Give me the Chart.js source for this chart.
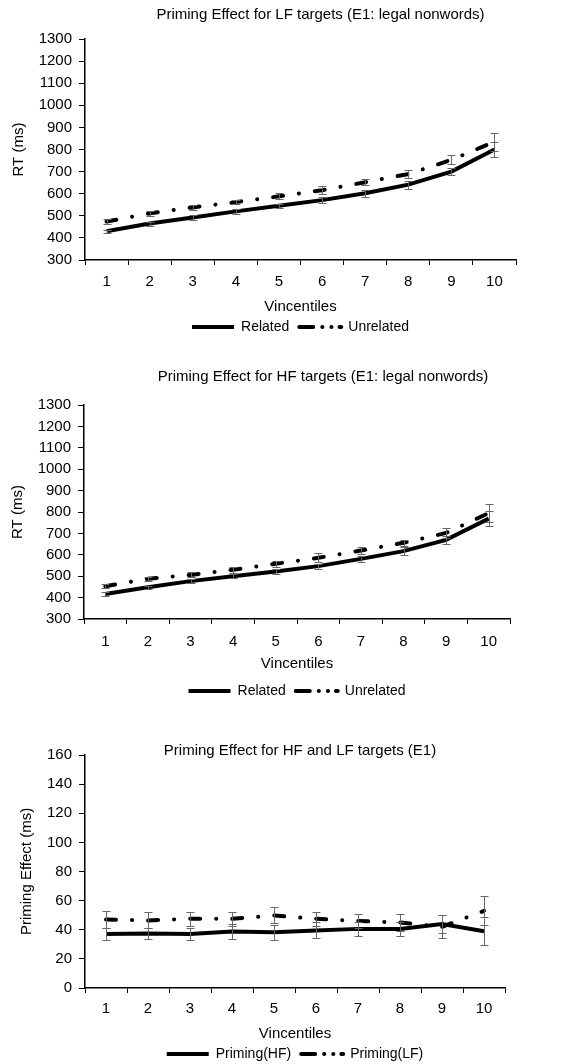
<!DOCTYPE html>
<html>
<head>
<meta charset="utf-8">
<script src="https://cdn.jsdelivr.net/npm/chart.js@4"></script>
<style>
	html, body { margin: 0; padding: 0; background: #fff; width: 585px; height: 1064px; overflow: hidden; }
	canvas { position: absolute; left: 0; }
</style>
</head>
<body>
<canvas id="chart-lf" width="585" height="344" style="top:0px"></canvas>
<canvas id="chart-hf" width="585" height="348" style="top:360px"></canvas>
<canvas id="chart-priming" width="585" height="351" style="top:720px"></canvas>
<script>
	'use strict';

	var vincentiles = ['1', '2', '3', '4', '5', '6', '7', '8', '9', '10'];

	// E1, LF targets (ms)
	var lfRelated = [430, 465, 492, 520, 545, 571, 602, 641, 700, 800];
	var lfRelatedErr = [8, 9, 10, 12, 10, 12, 15, 18, 15, 35];
	var lfUnrelated = [474, 511, 538, 562, 588, 616, 652, 689, 753, 835];
	var lfUnrelatedErr = [10, 10, 10, 10, 13, 18, 13, 17, 20, 40];

	// E1, HF targets (ms)
	var hfRelated = [417, 448, 477, 500, 522, 547, 581, 617, 670, 769];
	var hfRelatedErr = [8, 8, 8, 10, 12, 12, 15, 18, 20, 35];
	var hfUnrelated = [453, 488, 506, 530, 558, 586, 620, 656, 702, 795];
	var hfUnrelatedErr = [10, 10, 12, 13, 15, 21, 15, 15, 22, 42];

	// priming effect (ms)
	var primingHF = [37, 37.5, 37, 38.8, 38.3, 39.5, 40.6, 40.6, 44, 39];
	var primingHFErr = [4, 4, 4, 5, 5, 5.5, 5, 5, 6, 9.5];
	var primingLF = [47, 46.4, 47.5, 47.5, 49.8, 47.5, 46, 45, 42, 53];
	var primingLFErr = [6, 5.5, 5, 5, 5.5, 5, 5, 6, 8, 10];

	var rtTicks = { min: 300, max: 1300, step: 100 };
	var primingTicks = { min: 0, max: 160, step: 20 };

	var FONT = '"Liberation Sans", Arial, Helvetica, sans-serif';
	Chart.defaults.font.family = FONT;
	Chart.defaults.color = '#000';

	// vertical error bars with caps, drawn from dataset.errors
	var errorBarPlugin = {
		id: 'errorBars',
		afterDatasetsDraw: function (chart) {
			var ctx = chart.ctx;
			var yScale = chart.scales.y;
			chart.data.datasets.forEach(function (ds, i) {
				if (!ds.errors) {
					return;
				}
				var meta = chart.getDatasetMeta(i);
				ctx.save();
				ctx.strokeStyle = '#666';
				ctx.lineWidth = 1;
				meta.data.forEach(function (pt, j) {
					var top = Math.round(yScale.getPixelForValue(ds.data[j] + ds.errors[j])) + 0.5;
					var bottom = Math.round(yScale.getPixelForValue(ds.data[j] - ds.errors[j])) + 0.5;
					var x = Math.round(pt.x) + 0.5;
					ctx.beginPath();
					ctx.moveTo(x, top);
					ctx.lineTo(x, bottom);
					ctx.moveTo(x - 4, top);
					ctx.lineTo(x + 4, top);
					ctx.moveTo(x - 4, bottom);
					ctx.lineTo(x + 4, bottom);
					ctx.stroke();
				});
				ctx.restore();
			});
		}
	};

	// panel heading, placed relative to the plot area like the original figure
	var panelTitlePlugin = {
		id: 'panelTitle',
		afterDraw: function (chart, args, opts) {
			var area = chart.chartArea;
			var ctx = chart.ctx;
			ctx.save();
			ctx.font = '15px ' + FONT;
			ctx.fillStyle = '#000';
			ctx.textAlign = 'center';
			ctx.textBaseline = 'middle';
			ctx.fillText(opts.text, (area.left + area.right) / 2 + opts.shift, opts.y);
			ctx.restore();
		}
	};

	function lineDataset(label, values, errors, dashed) {
		return {
			label: label,
			data: values,
			errors: errors,
			borderColor: '#000',
			backgroundColor: '#000',
			borderWidth: 4,
			borderDash: dashed ? [10, 16, 0.1, 16] : [],
			legendDash: dashed ? [14, 9, 0.1, 9, 0.1, 8] : [],
			borderCapStyle: dashed ? 'round' : 'butt',
			pointRadius: 0,
			pointHoverRadius: 0,
			tension: 0,
			fill: false
		};
	}

	function legendLabels(chart) {
		return chart.data.datasets.map(function (ds, i) {
			return {
				text: ds.label,
				fillStyle: ds.borderColor,
				strokeStyle: ds.borderColor,
				lineWidth: ds.borderWidth,
				lineDash: ds.legendDash,
				lineCap: ds.borderCapStyle,
				pointStyle: 'line',
				fontColor: '#000',
				hidden: false,
				datasetIndex: i
			};
		});
	}

	function makeChart(id, p) {
		return new Chart(document.getElementById(id), {
			type: 'line',
			data: {
				labels: vincentiles,
				datasets: p.datasets
			},
			plugins: [errorBarPlugin, panelTitlePlugin],
			options: {
				responsive: false,
				animation: false,
				devicePixelRatio: 1,
				layout: {
					padding: { top: p.padTop, right: p.padRight, left: 0, bottom: 0 }
				},
				plugins: {
					tooltip: { enabled: false },
					title: { display: false },
					panelTitle: { text: p.title, shift: p.titleShift, y: p.titleY },
					legend: {
						position: 'bottom',
						fullSize: false,
						labels: {
							usePointStyle: true,
							pointStyleWidth: 42,
							boxHeight: 14,
							padding: 10,
							font: { size: 14 },
							color: '#000',
							generateLabels: legendLabels
						}
					}
				},
				scales: {
					x: {
						type: 'category',
						offset: true,
						grid: {
							offset: true,
							drawOnChartArea: false,
							drawTicks: true,
							tickLength: 5,
							color: '#000',
							lineWidth: 1
						},
						border: { color: '#000', width: 1.5 },
						ticks: {
							padding: p.xTickPad,
							maxRotation: 0,
							font: { size: 15 }
						},
						title: {
							display: true,
							text: 'Vincentiles',
							font: { size: 15 },
							padding: { top: p.xTitleTop, bottom: p.xTitleBottom }
						}
					},
					y: {
						min: p.ticks.min,
						max: p.ticks.max,
						afterFit: function (scale) {
							scale.width = p.yWidth;
						},
						grid: {
							drawOnChartArea: false,
							drawTicks: true,
							tickLength: 6,
							color: '#000',
							lineWidth: 1
						},
						border: { color: '#000', width: 1.5 },
						ticks: {
							stepSize: p.ticks.step,
							autoSkip: false,
							padding: 7,
							font: { size: 15 },
							callback: function (value) {
								return String(value);
							}
						},
						title: {
							display: true,
							text: p.yTitle,
							font: { size: 15 },
							padding: { top: p.yTitlePad, bottom: 0 }
						}
					}
				}
			}
		});
	}

	makeChart('chart-lf', {
		title: 'Priming Effect for LF targets (E1: legal nonwords)',
		titleShift: 20,
		titleY: 15,
		yTitle: 'RT (ms)',
		yTitlePad: 10,
		yWidth: 85,
		ticks: rtTicks,
		padTop: 39,
		padRight: 69,
		xTickPad: 8,
		xTitleTop: -1,
		xTitleBottom: -6,
		datasets: [
			lineDataset('Related', lfRelated, lfRelatedErr, false),
			lineDataset('Unrelated', lfUnrelated, lfUnrelatedErr, true)
		]
	});

	makeChart('chart-hf', {
		title: 'Priming Effect for HF targets (E1: legal nonwords)',
		titleShift: 26,
		titleY: 17,
		yTitle: 'RT (ms)',
		yTitlePad: 9,
		yWidth: 84,
		ticks: rtTicks,
		padTop: 45,
		padRight: 75,
		xTickPad: 9,
		xTitleTop: -5,
		xTitleBottom: 1,
		datasets: [
			lineDataset('Related', hfRelated, hfRelatedErr, false),
			lineDataset('Unrelated', hfUnrelated, hfUnrelatedErr, true)
		]
	});

	makeChart('chart-priming', {
		title: 'Priming Effect for HF and LF targets (E1)',
		titleShift: 5,
		titleY: 31,
		yTitle: 'Priming Effect (ms)',
		yTitlePad: 18,
		yWidth: 85,
		ticks: primingTicks,
		padTop: 35,
		padRight: 80,
		xTickPad: 7,
		xTitleTop: 0,
		xTitleBottom: -6,
		datasets: [
			lineDataset('Priming(HF)', primingHF, primingHFErr, false),
			lineDataset('Priming(LF)', primingLF, primingLFErr, true)
		]
	});
</script>
</body>
</html>
